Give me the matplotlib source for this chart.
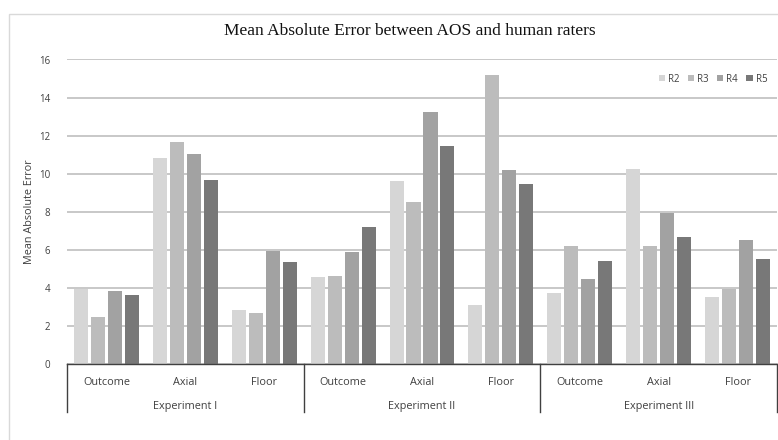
import matplotlib
matplotlib.use("Agg")
import matplotlib.pyplot as plt
import matplotlib.transforms as mtransforms
from matplotlib.patches import Rectangle
import numpy as np

experiments = ["Experiment I", "Experiment II", "Experiment III"]
categories = ["Outcome", "Axial", "Floor"]
series_names = ["R2", "R3", "R4", "R5"]
R2 = [3.95, 10.85, 2.85, 4.55, 9.6, 3.1, 3.75, 10.25, 3.5]
R3 = [2.45, 11.65, 2.7, 4.65, 8.5, 15.2, 6.2, 6.2, 3.95]
R4 = [3.85, 11.05, 5.95, 5.9, 13.25, 10.2, 4.45, 7.95, 6.5]
R5 = [3.6, 9.65, 5.35, 7.2, 11.45, 9.45, 5.4, 6.65, 5.5]
yticks = [0, 2, 4, 6, 8, 10, 12, 14, 16]

colors = ["#d6d6d6", "#bcbcbc", "#a2a2a2", "#787878"]
txt = "#404040"
font = "Open Sans"

W, H = 778, 440
fig = plt.figure(figsize=(W / 100, H / 100), dpi=100)
x0, x1 = 67, 777
y0, y1 = 364, 59.5
ax = fig.add_axes([x0 / W, 1 - y0 / H, (x1 - x0) / W, (y0 - y1) / H])

# outer chart border
fig.patches.append(Rectangle((9 / W, -0.1), 1.2, 1 - 14 / H + 0.1, transform=fig.transFigure,
                             fill=False, edgecolor="#d9d9d9", lw=1.0))

n = len(R2)
xs = np.arange(n)
step = 0.215
width = 0.178
all_series = [R2, R3, R4, R5]
for i, (vals, name, c) in enumerate(zip(all_series, series_names, colors)):
    ax.bar(xs + (i - 1.5) * step, vals, width=width, color=c, label=name, zorder=3)

ax.set_xlim(-0.5, n - 0.5)
ax.set_ylim(0, 16)
ax.set_yticks(yticks)
ax.set_yticklabels([str(t) for t in yticks], fontsize=7, color=txt, family=font)
ax.tick_params(axis="y", length=0, pad=12)
ax.set_xticks([])
ax.grid(axis="y", color="#c4c4c4", lw=1.3, zorder=0)
for s in ["top", "right", "left"]:
    ax.spines[s].set_visible(False)
ax.spines["bottom"].set_color("#404040")
ax.spines["bottom"].set_linewidth(1.0)
ax.spines["bottom"].set_zorder(4)

ax.set_ylabel("Mean Absolute Error", fontsize=7.8, color=txt, family=font, labelpad=3)

# multi-level category axis
trans = mtransforms.blended_transform_factory(ax.transData, ax.transAxes)
ph = y0 - y1
line_bottom = -(412 - y0) / ph
cat_y = -(382 - y0) / ph
exp_y = -(406 - y0) / ph
ncat = len(categories)
for k in range(len(experiments) + 1):
    xb = k * ncat - 0.5
    ax.plot([xb, xb], [0, line_bottom], transform=trans, color="#404040", lw=1.0, clip_on=False)
for j in range(n):
    ax.text(j, cat_y, categories[j % ncat], transform=trans, ha="center", va="center",
            fontsize=7.8, color=txt, family=font)
for k, e in enumerate(experiments):
    ax.text(k * ncat + (ncat - 1) / 2, exp_y, e, transform=trans, ha="center", va="center",
            fontsize=7.8, color=txt, family=font)

fig.text(410 / W, 1 - 31 / H, "Mean Absolute Error between AOS and human raters",
         ha="center", va="center", fontsize=12.5, family="Liberation Serif", color="#111111")

leg = fig.legend(loc="center right", bbox_to_anchor=(772 / W, 1 - 79 / H), ncol=4,
                 frameon=False, fontsize=7, handlelength=0.7, handleheight=0.7,
                 handletextpad=0.3, columnspacing=0.8, borderpad=0)
for t in leg.get_texts():
    t.set_color(txt)
    t.set_family(font)

fig.savefig("out.png", dpi=100, facecolor="white")
